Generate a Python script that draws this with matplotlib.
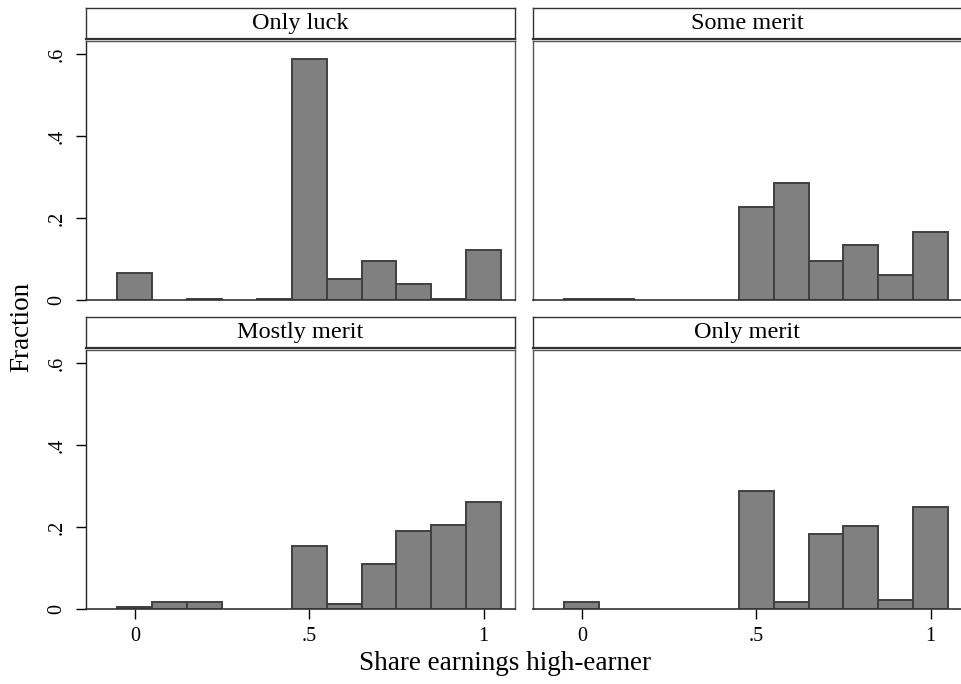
import matplotlib.pyplot as plt

plt.rcParams['font.family'] = ['Liberation Serif', 'DejaVu Serif']

# histogram bin centres (bin width 0.1) and fraction of answers per bin
bins = [0.0, 0.1, 0.2, 0.3, 0.4, 0.5, 0.6, 0.7, 0.8, 0.9, 1.0]
only_luck = [0.065, 0, 0.003, 0, 0.003, 0.588, 0.052, 0.095, 0.039, 0.003, 0.121]
some_merit = [0.003, 0.003, 0, 0, 0, 0.227, 0.285, 0.095, 0.134, 0.061, 0.167]
mostly_merit = [0.004, 0.017, 0.017, 0, 0, 0.154, 0.011, 0.110, 0.191, 0.205, 0.261]
only_merit = [0.017, 0, 0, 0, 0, 0.288, 0.017, 0.183, 0.203, 0.023, 0.249]

titles = ['Only luck', 'Some merit', 'Mostly merit', 'Only merit']
series = [only_luck, some_merit, mostly_merit, only_merit]
yticks = [0, 0.2, 0.4, 0.6]
ytick_labels = ['0', '.2', '.4', '.6']
xticks = [0, 0.5, 1]
xtick_labels = ['0', '.5', '1']

W, H = 961, 684
fig = plt.figure(figsize=(W / 100, H / 100), dpi=100)

# panel boxes in pixels
lefts = [86, 533]
tops = [41, 350]
pw, ph = 429, 259
strip_h = 31

for i, (title, vals) in enumerate(zip(titles, series)):
    row, col = divmod(i, 2)
    x0, y0 = lefts[col], tops[row]
    ax = fig.add_axes([x0 / W, 1 - (y0 + ph) / H, pw / W, ph / H])
    xs = [b for b, v in zip(bins, vals) if v > 0]
    hs = [v for v in vals if v > 0]
    ax.bar(xs, hs, width=0.1, color='#808080', edgecolor='#404040',
           linewidth=1.4, align='center')
    ax.set_xlim(-0.14, 1.09)
    ax.set_ylim(0, 0.632)
    for side in ['top', 'right', 'left']:
        ax.spines[side].set_color('#555555')
        ax.spines[side].set_linewidth(1.0)
    ax.spines['bottom'].set_color('#333333')
    ax.spines['bottom'].set_linewidth(1.2)
    if col == 0:
        ax.spines['left'].set_color('#222222')
        ax.set_yticks(yticks)
        ax.set_yticklabels(ytick_labels, rotation=90, va='center', fontsize=14.5)
        ax.tick_params(axis='y', length=7, width=1, pad=7)
    else:
        ax.set_yticks([])
    if row == 1:
        ax.set_xticks(xticks)
        ax.set_xticklabels(xtick_labels, fontsize=14.5)
        ax.tick_params(axis='x', length=7, width=1, pad=6)
    else:
        ax.set_xticks([])

    # title strip above each panel
    sax = fig.add_axes([x0 / W, 1 - (y0 - 2) / H, pw / W, strip_h / H])
    sax.set_xticks([])
    sax.set_yticks([])
    for sp in sax.spines.values():
        sp.set_color('#333333')
        sp.set_linewidth(1.0)
    sax.spines['bottom'].set_linewidth(1.6)
    sax.text(0.5, 0.5, title, ha='center', va='center', fontsize=17.5,
             transform=sax.transAxes)

fig.text(22 / W, 1 - 327 / H, 'Fraction', rotation=90, ha='center',
         va='center', fontsize=19.5)
fig.text(505 / W, 1 - 664 / H, 'Share earnings high-earner', ha='center',
         va='center', fontsize=19.5)

fig.savefig('out.png', dpi=100, facecolor='white')
